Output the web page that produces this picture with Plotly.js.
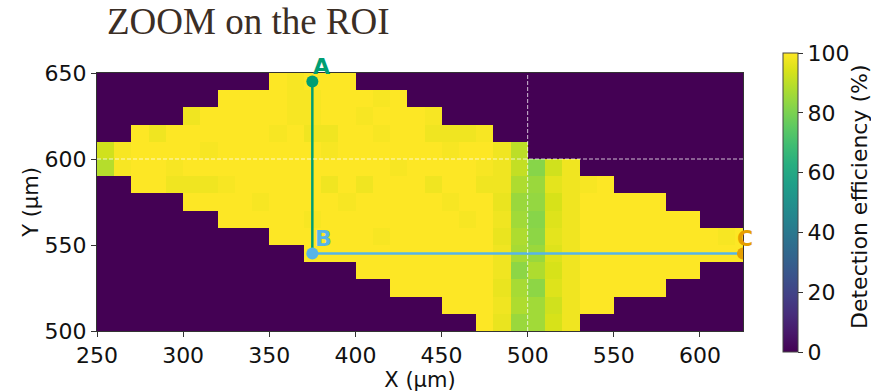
<!DOCTYPE html>
<html>
<head>
<meta charset="utf-8">
<script src="https://cdn.plot.ly/plotly-3.0.1.min.js"></script>
<style>html,body{margin:0;padding:0;background:#fff;}#chart{width:871px;height:392px;}</style>
</head>
<body>
<div id="chart"></div>
<script>
// Cell centres (µm)
const xCenters = [255,265,275,285,295,305,315,325,335,345,355,365,375,385,395,405,415,425,435,445,455,465,475,485,495,505,515,525,535,545,555,565,575,585,595,605,615,625];
const yCenters = [505,515,525,535,545,555,565,575,585,595,605,615,625,635,645];

// Detection efficiency (%) per row, bottom (y=505) to top (y=645)
const r505 = [0,0,0,0,0,0,0,0,0,0, 0,0,0,0,0,0,0,0,0,0, 0,0,100,97,85,86,94,98,0,0, 0,0,0,0,0,0,0,0];
const r515 = [0,0,0,0,0,0,0,0,0,0, 0,0,0,0,0,0,0,0,0,0, 100,100,100,98,88,86,93,98,100,100, 0,0,0,0,0,0,0,0];
const r525 = [0,0,0,0,0,0,0,0,0,0, 0,0,0,0,0,0,0,100,100,100, 100,100,100,97,87,83,95,98,100,100, 100,100,100,0,0,0,0,0];
const r535 = [0,0,0,0,0,0,0,0,0,0, 0,0,0,0,0,100,100,100,100,100, 100,100,100,98,83,88,94,98,100,100, 100,100,100,100,100,0,0,0];
const r545 = [0,0,0,0,0,0,0,0,0,0, 0,0,100,100,100,100,100,100,100,100, 100,100,100,98,87,85,95,98,100,100, 100,100,100,100,100,100,100,100];
const r555 = [0,0,0,0,0,0,0,0,0,0, 100,100,100,100,100,100,99,100,100,100, 100,100,100,97,88,83,96,98,100,100, 100,100,100,100,100,100,99,100];
const r565 = [0,0,0,0,0,0,0,100,100,100, 100,100,99,100,100,100,100,100,100,100, 100,99,100,98,86,82,95,98,100,100, 100,100,100,100,100,0,0,0];
const r575 = [0,0,0,0,0,100,100,100,100,99, 100,100,100,100,99,100,100,100,100,100, 99,100,100,97,85,84,94,98,100,100, 100,100,100,0,0,0,0,0];
const r585 = [0,0,100,100,98,98,98,99,100,100, 100,100,100,98,100,98,100,100,100,98, 100,100,98,98,88,85,96,98,99,100, 0,0,0,0,0,0,0,0];
const r595 = [89,99,100,100,99,100,100,100,100,100, 100,100,100,100,100,100,100,99,100,100, 100,100,99,98,91,82,93,98,0,0, 0,0,0,0,0,0,0,0];
const r605 = [93,99,100,100,100,100,99,100,100,100, 100,100,100,99,100,100,100,100,100,100, 99,100,100,98,90,0,0,0,0,0, 0,0,0,0,0,0,0,0];
const r615 = [0,0,100,98,100,100,100,100,100,100, 99,100,98,98,100,100,99,100,100,98, 98,98,99,0,0,0,0,0,0,0, 0,0,0,0,0,0,0,0];
const r625 = [0,0,0,0,0,98,100,100,100,100, 100,99,99,100,100,99,100,100,100,99, 0,0,0,0,0,0,0,0,0,0, 0,0,0,0,0,0,0,0];
const r635 = [0,0,0,0,0,0,0,100,100,100, 100,99,99,100,100,100,99,100,0,0, 0,0,0,0,0,0,0,0,0,0, 0,0,0,0,0,0,0,0];
const r645 = [0,0,0,0,0,0,0,0,0,0, 100,99,100,100,100,0,0,0,0,0, 0,0,0,0,0,0,0,0,0,0, 0,0,0,0,0,0,0,0];

// Profile path points
const pathA = {x: 375, y: 645};
const pathB = {x: 375, y: 545};
const pathC = {x: 625, y: 545};

// Reference cross-hair
const crossX = 500;
const crossY = 600;

const xTicks = [250,300,350,400,450,500,550,600];
const yTicks = [500,550,600,650];
const cbTicks = [0,20,40,60,80,100];

const zRows = [r505,r515,r525,r535,r545,r555,r565,r575,r585,r595,r605,r615,r625,r635,r645];

const GREEN = '#009E73', BLUE = '#56B4E9', ORANGE = '#E69F00';
const FONT = 'DejaVu Sans, sans-serif';

const traces = [
  {
    type: 'heatmap', x: xCenters, y: yCenters, z: zRows,
    colorscale: 'Viridis', zmin: 0, zmax: 100, zsmooth: false,
    hoverinfo: 'skip',
    colorbar: {
      x: 1.0619, xanchor: 'left', xpad: 0, ypad: 0,
      y: 0.498, yanchor: 'middle', len: 299, lenmode: 'pixels',
      thickness: 15, thicknessmode: 'pixels',
      outlinewidth: 1, outlinecolor: '#444',
      tickmode: 'array', tickvals: cbTicks, ticktext: cbTicks.map(String),
      ticks: 'outside', ticklen: 5, tickwidth: 1, tickcolor: '#333',
      tickfont: {family: FONT, size: 22, color: '#111'}
    }
  },
  {
    type: 'scatter', mode: 'lines', x: [pathA.x, pathB.x], y: [pathA.y, pathB.y],
    line: {color: GREEN, width: 2.5}, hoverinfo: 'skip', showlegend: false
  },
  {
    type: 'scatter', mode: 'lines', x: [pathB.x, pathC.x], y: [pathB.y, pathC.y],
    line: {color: BLUE, width: 2.5}, hoverinfo: 'skip', showlegend: false
  },
  {
    type: 'scatter', mode: 'markers', x: [pathA.x], y: [pathA.y],
    marker: {color: GREEN, size: 12}, hoverinfo: 'skip', showlegend: false
  },
  {
    type: 'scatter', mode: 'markers', x: [pathB.x], y: [pathB.y],
    marker: {color: BLUE, size: 12}, hoverinfo: 'skip', showlegend: false
  },
  {
    type: 'scatter', mode: 'markers', x: [pathC.x], y: [pathC.y],
    marker: {color: ORANGE, size: 12}, hoverinfo: 'skip', showlegend: false
  }
];

const labelFont = c => ({family: FONT, size: 22, color: c, weight: 700});

const layout = {
  width: 871, height: 392,
  margin: {l: 97, r: 128, t: 73, b: 61, autoexpand: false},
  paper_bgcolor: '#fff', plot_bgcolor: '#fff',
  showlegend: false,
  title: {
    text: 'ZOOM on the ROI',
    font: {family: 'Liberation Serif, serif', size: 37, color: '#3b2e25'},
    xref: 'container', x: 107/871, xanchor: 'left',
    yref: 'container', y: 1 - 8/392, yanchor: 'top'
  },
  xaxis: {
    range: [250, 625], tickmode: 'array', tickvals: xTicks, ticktext: xTicks.map(String),
    ticks: 'outside', ticklen: 5, tickwidth: 1, tickcolor: '#333',
    showline: true, mirror: true, linecolor: '#333', linewidth: 1,
    showgrid: false, zeroline: false,
    tickfont: {family: FONT, size: 22, color: '#111'},
    title: {text: 'X (µm)', font: {family: FONT, size: 21, color: '#111'}, standoff: 0}
  },
  yaxis: {
    range: [500, 650], tickmode: 'array', tickvals: yTicks, ticktext: yTicks.map(String),
    ticks: 'outside', ticklen: 5, tickwidth: 1, tickcolor: '#333',
    showline: true, mirror: true, linecolor: '#333', linewidth: 1,
    showgrid: false, zeroline: false,
    tickfont: {family: FONT, size: 22, color: '#111'},
    title: {text: 'Y (µm)', font: {family: FONT, size: 21, color: '#111'}, standoff: 0}
  },
  shapes: [
    {type: 'line', xref: 'x', yref: 'paper', x0: crossX, x1: crossX, y0: 0, y1: 1,
     line: {color: 'rgba(255,255,255,0.75)', width: 1, dash: '4px,2px'}},
    {type: 'line', xref: 'paper', yref: 'y', x0: 0, x1: 1, y0: crossY, y1: crossY,
     line: {color: 'rgba(255,255,255,0.75)', width: 1, dash: '4px,2px'}}
  ],
  annotations: [
    {xref: 'x', yref: 'y', x: pathA.x, y: pathA.y, text: 'A', showarrow: false,
     xanchor: 'left', yanchor: 'bottom', xshift: -1, yshift: 1, font: labelFont(GREEN)},
    {xref: 'x', yref: 'y', x: pathB.x, y: pathB.y, text: 'B', showarrow: false,
     xanchor: 'left', yanchor: 'bottom', xshift: 1, yshift: 1, font: labelFont(BLUE)},
    {xref: 'x', yref: 'y', x: pathC.x, y: pathC.y, text: 'C', showarrow: false,
     xanchor: 'left', yanchor: 'bottom', xshift: -8, yshift: 1, font: labelFont(ORANGE)},
    {xref: 'paper', yref: 'paper', x: (859-97)/646, y: (331-197)/258, text: 'Detection efficiency (%)',
     showarrow: false, textangle: -90, xanchor: 'center', yanchor: 'middle',
     font: {family: FONT, size: 22, color: '#111'}}
  ]
};

Plotly.newPlot('chart', traces, layout, {displayModeBar: false, staticPlot: true});
</script>
</body>
</html>
